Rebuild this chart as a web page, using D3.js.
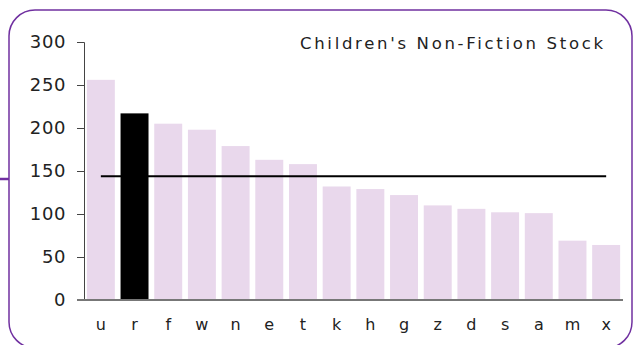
<!DOCTYPE html>
<html>
<head>
<meta charset="utf-8">
<script src="https://cdn.jsdelivr.net/npm/d3@7"></script>
<style>
  html, body { margin: 0; padding: 0; background: #fff; }
  svg { display: block; }
  text { font-family: "DejaVu Sans", Verdana, sans-serif; fill: #222; }
</style>
</head>
<body>
<svg id="chart" width="639" height="345"></svg>
<script>
// Stock counts per branch, sorted high to low
const categories = ["u", "r", "f", "w", "n", "e", "t", "k", "h", "g", "z", "d", "s", "a", "m", "x"];
const values = [256, 217, 205, 198, 179, 163, 158, 132, 129, 122, 110, 106, 102, 101, 69, 64];
const highlighted = ["r"];
const averageValue = 144;
const yTicks = [0, 50, 100, 150, 200, 250, 300];
const title = "Children's Non-Fiction Stock";

const svg = d3.select("#chart");
const plot = { left: 84, right: 623, top: 42, bottom: 300 };
const fontFamily = "DejaVu Sans, Verdana, sans-serif";

// Panel frame with rounded corners
svg.append("rect")
  .attr("x", 9).attr("y", 10)
  .attr("width", 623).attr("height", 338)
  .attr("rx", 26).attr("ry", 26)
  .attr("fill", "none")
  .attr("stroke", "#7030a0")
  .attr("stroke-width", 1.5);

// Connector stub on the left edge
svg.append("line")
  .attr("x1", 0).attr("x2", 9)
  .attr("y1", 179).attr("y2", 179)
  .attr("stroke", "#7030a0")
  .attr("stroke-width", 2.5);

const x = d3.scaleBand()
  .domain(categories)
  .range([plot.left, plot.right])
  .paddingInner(0.17)
  .paddingOuter(0.085);

const y = d3.scaleLinear()
  .domain([0, 300])
  .range([plot.bottom, plot.top]);

// Bars
svg.append("g")
  .selectAll("rect")
  .data(categories.map((c, i) => ({ c, v: values[i] })))
  .join("rect")
  .attr("x", d => x(d.c))
  .attr("y", d => y(d.v))
  .attr("width", x.bandwidth())
  .attr("height", d => y(0) - y(d.v))
  .attr("fill", d => highlighted.includes(d.c) ? "#000" : "#e9d8ec");

// Y axis
const yAxis = d3.axisLeft(y).tickValues(yTicks).tickSize(7).tickPadding(11);
const gy = svg.append("g")
  .attr("transform", `translate(${plot.left},0)`)
  .call(yAxis);
gy.select(".domain").attr("stroke", "#444").attr("stroke-width", 1);
gy.selectAll(".tick line").attr("stroke", "#444");
gy.selectAll(".tick text")
  .attr("font-size", 18)
  .attr("font-family", fontFamily)
  .attr("letter-spacing", 0.6)
  .attr("fill", "#222");

// X axis
const xAxis = d3.axisBottom(x).tickSize(0).tickPadding(19);
const gx = svg.append("g")
  .attr("transform", `translate(0,${plot.bottom})`)
  .call(xAxis);
gx.select(".domain")
  .attr("d", `M${plot.left - 7},0H${plot.right}`)
  .attr("stroke", "#777").attr("stroke-width", 2);
gx.selectAll(".tick text")
  .attr("font-size", 16)
  .attr("font-family", fontFamily)
  .attr("fill", "#222");

// Average line across band centres
const first = categories[0], last = categories[categories.length - 1];
svg.append("line")
  .attr("x1", x(first) + x.bandwidth() / 2)
  .attr("x2", x(last) + x.bandwidth() / 2)
  .attr("y1", y(averageValue)).attr("y2", y(averageValue))
  .attr("stroke", "#000")
  .attr("stroke-width", 2);

// Title
svg.append("text")
  .attr("x", 300).attr("y", 49)
  .attr("font-size", 16.5)
  .attr("textLength", 303)
  .attr("lengthAdjust", "spacing")
  .text(title);
</script>
</body>
</html>
